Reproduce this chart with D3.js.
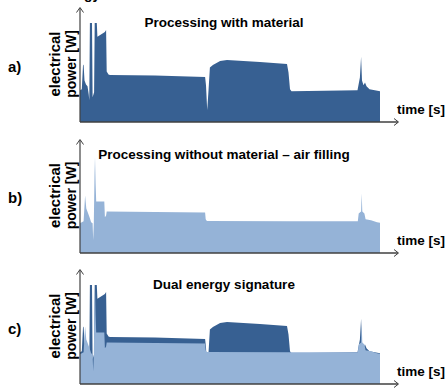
<!DOCTYPE html>
<html>
<head>
<meta charset="utf-8">
<script src="https://cdn.jsdelivr.net/npm/d3@7"></script>
<style>
  body { margin: 0; background: #fff; }
  svg text { font-family: Arial, "Liberation Sans", sans-serif; font-weight: bold; fill: #000; }
</style>
</head>
<body>
<svg id="chart" width="446" height="389"></svg>
<script>
// with material (dark)
var timeA  = [0, 0.6, 1.0, 1.2, 1.5, 2.0, 2.5, 2.9, 3.1, 3.3, 4.0, 4.2, 4.7, 4.9, 5.6, 5.8, 8.3, 8.7, 8.9, 9.5, 10, 25, 41.7, 42.0, 42.4, 42.8, 43.3, 44.3, 46.7, 49, 60, 69, 69.5, 70, 70.5, 92.5, 93.3, 93.7, 94.0, 94.5, 95.0, 95.5, 96.5, 100, 100];
var powerA = [32, 33, 57, 58, 42, 38, 36, 28, 22, 100, 100, 25, 30, 100, 100, 86, 91, 93, 51, 48, 47.5, 47, 45.5, 37, 12, 30, 55, 57.6, 61.6, 62.6, 60.5, 58.6, 50, 33, 31, 32, 45, 66, 42, 37, 40, 36, 33, 31, 0];

// without material - air filling (light)
var timeB  = [0, 1.2, 1.7, 2.1, 2.6, 3.3, 3.7, 4.2, 4.4, 4.6, 4.85, 5.0, 5.2, 5.4, 8.1, 8.3, 8.7, 8.9, 25, 41.7, 41.9, 42.3, 70, 92.6, 92.9, 93.7, 93.9, 94.1, 94.8, 95.2, 97, 99, 100, 100];
var powerB = [30, 32, 58, 45, 41, 35, 31, 30, 13, 30, 80, 97, 70, 52, 52, 36, 38, 42, 41.5, 41, 34, 32.3, 32, 32, 40, 42, 60, 42, 40, 34, 33, 31, 30.6, 0];

var titles = ["Processing with material", "Processing without material \u2013 air filling", "Dual energy signature"];
var letters = ["a)", "b)", "c)"];
var seriesOf = [["A"], ["B"], ["A", "B"]];

var dark = "#376092", light = "#95b3d7";
var panels = [{top: 8, base: 122}, {top: 140, base: 253}, {top: 270, base: 384}];

var svg = d3.select("#chart");
var x = d3.scaleLinear().domain([0, 100]).range([80, 380]);

var data = {
  A: timeA.map(function(t, i) { return {t: t, v: powerA[i]}; }),
  B: timeB.map(function(t, i) { return {t: t, v: powerB[i]}; })
};
var colour = {A: dark, B: light};

// cut off caption from the figure above
svg.append("text").attr("x", 84).attr("y", -1).attr("font-size", 14).text("gy");

panels.forEach(function(p, k) {
  var y = d3.scaleLinear().domain([0, 100]).range([p.base, p.base - 99]);
  var g = svg.append("g");

  var area = d3.area()
    .x(function(d) { return x(d.t); })
    .y0(p.base)
    .y1(function(d) { return y(d.v); });

  seriesOf[k].forEach(function(s) {
    g.append("path")
      .datum(data[s])
      .attr("d", area)
      .attr("fill", colour[s]);
  });

  // axes with open arrow heads
  g.append("line").attr("x1", 80).attr("y1", p.base).attr("x2", 398).attr("y2", p.base)
    .attr("stroke", "#404040").attr("stroke-width", 1.5);
  g.append("line").attr("x1", 80).attr("y1", p.base).attr("x2", 80).attr("y2", p.top)
    .attr("stroke", "#404040").attr("stroke-width", 1.2);
  g.append("path").attr("d", "M394," + (p.base - 3.5) + "L398.5," + p.base + "L394," + (p.base + 3.5))
    .attr("fill", "none").attr("stroke", "#404040").attr("stroke-width", 1);
  g.append("path").attr("d", "M76.5," + (p.top + 4.5) + "L80," + (p.top - 0.5) + "L83.5," + (p.top + 4.5))
    .attr("fill", "none").attr("stroke", "#404040").attr("stroke-width", 1);

  var mid = (p.top + p.base) / 2;

  g.append("text")
    .attr("x", 224).attr("y", p.top + 14)
    .attr("text-anchor", "middle").attr("dominant-baseline", "central")
    .attr("font-size", 13.5)
    .text(titles[k]);

  g.append("text")
    .attr("x", 397).attr("y", p.base - 8)
    .attr("font-size", 13.5)
    .text("time [s]");

  g.append("text")
    .attr("x", 8).attr("y", mid + 1)
    .attr("dominant-baseline", "central")
    .attr("font-size", 15)
    .text(letters[k]);

  g.append("text")
    .attr("transform", "translate(54," + (mid - 1) + ") rotate(-90)")
    .attr("text-anchor", "middle").attr("dominant-baseline", "central")
    .attr("font-size", 15)
    .text("electrical");
  g.append("text")
    .attr("transform", "translate(71," + (mid - 1) + ") rotate(-90)")
    .attr("text-anchor", "middle").attr("dominant-baseline", "central")
    .attr("font-size", 14)
    .text("power [W]");
});
</script>
</body>
</html>
